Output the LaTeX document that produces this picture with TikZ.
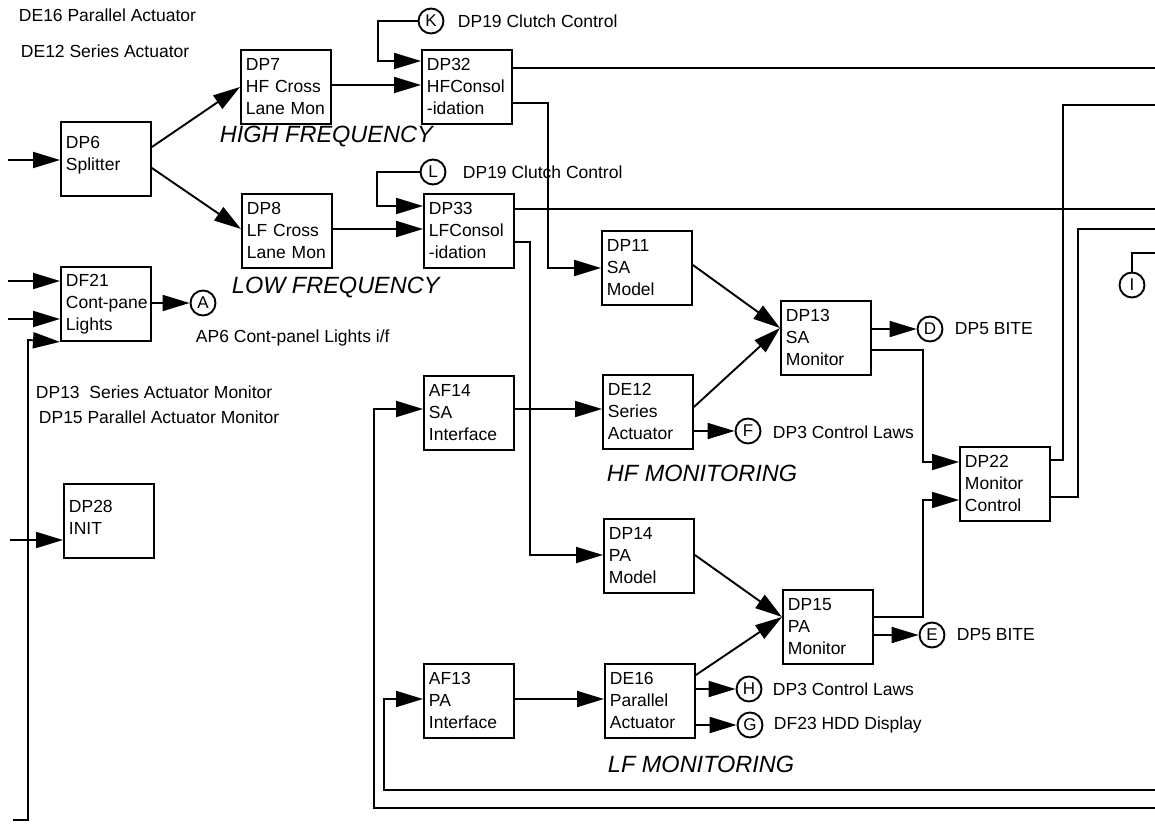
\documentclass[tikz,border=0pt]{standalone}
\usepackage{fontspec}
\setmainfont{Liberation Sans}
\usetikzlibrary{arrows.meta,calc}
\begin{document}
\begin{tikzpicture}[x=1pt,y=-1pt,
  line width=1.9pt,
  box/.style={draw, anchor=north west, inner xsep=5pt, inner ysep=0pt, text width=80pt, minimum height=74pt, align=left, font=\fontsize{17.5}{22}\selectfont},
  lbl/.style={anchor=west, inner sep=0pt, font=\fontsize{17.5}{22}\selectfont},
  bigl/.style={anchor=west, inner sep=0pt, font=\fontsize{23.5}{26}\selectfont\itshape},
  circ/.style={draw, circle, minimum size=25pt, inner sep=0pt, font=\fontsize{17}{18}\selectfont},
  arr/.style={-{Triangle[length=27pt,width=16pt]}}
]
\useasboundingbox (0,0) rectangle (1155,826);

% boxes
\node[box] (DP6) at (60,121) {DP6\\Splitter\\[-11pt]\mbox{}};
\node[box] (DP7) at (240,49) {DP7\\HF Cross\\Lane Mon};
\node[box] (DP32) at (421,49) {DP32\\HFConsol\\-idation};
\node[box] (DP8) at (241,193) {DP8\\LF Cross\\Lane Mon};
\node[box] (DP33) at (423,193) {DP33\\LFConsol\\-idation};
\node[box] (DF21) at (60,266) {DF21\\\mbox{Cont-pane}\\Lights};
\node[box] (DP11) at (601,230) {DP11\\SA\\Model};
\node[box] (DP13) at (780,300) {DP13\\SA\\Monitor};
\node[box] (AF14) at (423,375) {AF14\\SA\\Interface};
\node[box] (DE12) at (602,374) {DE12\\Series\\Actuator};
\node[box] (DP28) at (63,483) {DP28\\INIT\\[-14pt]\mbox{}};
\node[box] (DP14) at (603,518) {DP14\\PA\\Model};
\node[box] (DP15) at (782,589) {DP15\\PA\\Monitor};
\node[box] (AF13) at (423,663) {AF13\\PA\\Interface};
\node[box] (DE16) at (604,663) {DE16\\Parallel\\Actuator};
\node[box] (DP22) at (959,446) {DP22\\Monitor\\Control};

% circles
\node[circ] (K) at (431,21) {K};
\node[circ] (L) at (433,172) {L};
\node[circ] (A) at (203,303) {A};
\node[circ] (D) at (930,329) {D};
\node[circ] (E) at (932,635) {E};
\node[circ] (F) at (748,431) {F};
\node[circ] (H) at (749,689) {H};
\node[circ] (G) at (750,725) {G};
\node[circ] (I) at (1132,285) {I};

% labels
\node[lbl] (t1) at (18,15) {DE16 Parallel Actuator};
\node[lbl] (t2) at (20,51) {DE12 Series Actuator};
\node[lbl] (t3) at (457,21) {DP19 Clutch Control};
\node[lbl] (t4) at (462,172) {DP19 Clutch Control};
\node[lbl] (t5) at (195,338) {AP6 Cont-panel Lights i/f};
\node[lbl] (t6) at (35,392) {DP13\ \ Series Actuator Monitor};
\node[lbl] (t7) at (38,417) {DP15 Parallel Actuator Monitor};
\node[lbl] (t8) at (954,329) {DP5 BITE};
\node[lbl] (t9) at (956,635) {DP5 BITE};
\node[lbl] (t10) at (772,432) {DP3 Control Laws};
\node[lbl] (t11) at (772,689) {DP3 Control Laws};
\node[lbl] (t12) at (773,725) {DF23 HDD Display};
\node[bigl] (h1) at (219,137) {HIGH FREQUENCY};
\node[bigl] (h2) at (231,288) {LOW FREQUENCY};
\node[bigl] (h3) at (606,473) {HF MONITORING};
\node[bigl] (h4) at (607,764) {LF MONITORING};

% free ends
\coordinate (R) at (1155,0);
\coordinate (in6) at (8,160);
\coordinate (in21a) at (8,281);
\coordinate (in21b) at (8,319);
\coordinate (in21c) at (13,820);
\coordinate (in28) at (10,540);
\coordinate (bot1) at (1155,808);
\coordinate (bot2) at (1155,790);

% HF chain
\draw[arr] (in6) -- (in6 -| DP6.west);
\draw[arr] ($(DP6.north east)+(0,26)$) -- ($(DP7.north west)+(0,38)$);
\draw[arr] ($(DP6.north east)+(0,47)$) -- ($(DP8.north west)+(0,36)$);
\draw[arr] ($(DP7.north east)+(0,36)$) coordinate (t) -- (t -| DP32.west);
\draw[arr] (K.west) -- (378,21) -- (378,61) -- (DP32.west |- 0,61);
\draw ($(DP32.north east)+(0,19)$) coordinate (t) -- (t -| R);
\draw[arr] ($(DP32.north east)+(0,54)$) -- (548,103) -- (548,268) -- (DP11.west |- 0,268);

% LF chain
\draw[arr] (L.west) -- (377,172) -- (377,206) -- (DP33.west |- 0,206);
\draw[arr] ($(DP8.north east)+(0,36)$) coordinate (t) -- (t -| DP33.west);
\draw ($(DP33.north east)+(0,16)$) coordinate (t) -- (t -| R);
\draw[arr] ($(DP33.north east)+(0,49)$) -- (530,242) -- (530,555) -- (DP14.west |- 0,555);

% left column
\draw[arr] (in21a) -- (in21a -| DF21.west);
\draw[arr] (in21b) -- (in21b -| DF21.west);
\draw[arr] (in21c) -- (28,820) -- (28,340) -- (DF21.south west);
\draw[arr] (DF21.east |- A) -- (A.west);
\draw[arr] (in28) -- (in28 -| DP28.west);

% interfaces
\draw[arr] (bot1) -- (374,808) -- (374,409) -- (AF14.west |- 0,409);
\draw[arr] (bot2) -- (384,790) -- (384,699) -- (AF13.west |- 0,699);
\draw[arr] (AF14.east |- 0,409) -- (DE12.west |- 0,409);
\draw[arr] (AF13.east |- 0,699) -- (DE16.west |- 0,699);

% monitoring
\draw[arr] (DE12.east |- F) -- (F.west);
\draw[arr] ($(DE12.north east)+(0,33)$) -- ($(DP13.north west)+(0,28)$);
\draw[arr] ($(DP11.north east)+(0,35)$) -- ($(DP13.north west)+(0,28)$);
\draw[arr] (DP13.east |- D) -- (D.west);
\draw[arr] ($(DP13.north east)+(0,50)$) -- (923,350) -- (923,462) -- (DP22.west |- 0,462);
\draw[arr] ($(DP15.north east)+(0,28)$) -- (923,617) -- (923,500) -- (DP22.west |- 0,500);
\draw[arr] ($(DP14.north east)+(0,37)$) -- ($(DP15.north west)+(0,28)$);
\draw[arr] ($(DE16.north east)+(0,12)$) -- ($(DP15.north west)+(0,28)$);
\draw[arr] (DP15.east |- E) -- (E.west);
\draw[arr] (DE16.east |- H) -- (H.west);
\draw[arr] (DE16.east |- G) -- (G.west);

% outputs to right
\draw (DP22.east |- 0,460) -- (1063,460) -- (1063,105) -- (R |- 0,105);
\draw (DP22.east |- 0,497) -- (1078,497) -- (1078,229) -- (R |- 0,229);
\draw (I.north) -- (1132,253) -- (R |- 0,253);
\end{tikzpicture}
\end{document}
